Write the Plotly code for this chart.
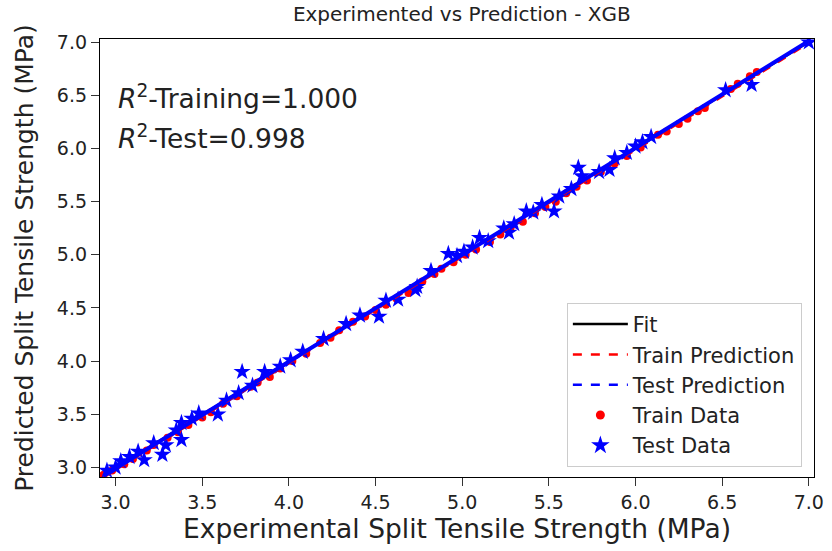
import numpy as np
import plotly.graph_objects as go

# Training set: experimental vs predicted split tensile strength (MPa)
train_exp = [2.93, 2.98, 3.05, 3.10, 3.18, 3.22, 3.30, 3.36, 3.42, 3.50, 3.55, 3.62,
             3.70, 3.78, 3.82, 3.89, 3.95, 4.02, 4.10, 4.18, 4.24, 4.29, 4.37, 4.44,
             4.50, 4.56, 4.62, 4.69, 4.77, 4.84, 4.88, 4.95, 5.02, 5.08, 5.16, 5.22,
             5.28, 5.35, 5.42, 5.48, 5.54, 5.60, 5.66, 5.72, 5.80, 5.88, 5.95, 6.03,
             6.13, 6.18, 6.25, 6.30, 6.36, 6.40, 6.55, 6.59, 6.66, 6.70]
train_pred = [2.93, 2.97, 3.03, 3.08, 3.16, 3.21, 3.28, 3.33, 3.40, 3.47, 3.52, 3.60,
              3.67, 3.76, 3.80, 3.85, 3.93, 4.00, 4.07, 4.17, 4.22, 4.29, 4.37, 4.42,
              4.48, 4.53, 4.59, 4.64, 4.75, 4.82, 4.87, 4.93, 5.00, 5.05, 5.12, 5.19,
              5.26, 5.31, 5.39, 5.45, 5.50, 5.58, 5.64, 5.70, 5.78, 5.86, 5.93, 6.01,
              6.13, 6.16, 6.23, 6.28, 6.35, 6.38, 6.56, 6.61, 6.68, 6.72]

# Test set
test_exp = [2.95, 3.00, 3.03, 3.08, 3.13, 3.165, 3.22, 3.27, 3.29, 3.35, 3.38, 3.38,
            3.44, 3.48, 3.59, 3.64, 3.71, 3.73, 3.79, 3.86, 3.95, 4.01, 4.08, 4.20,
            4.33, 4.41, 4.52, 4.56, 4.63, 4.73, 4.74, 4.82, 4.92, 4.97, 5.01, 5.06,
            5.10, 5.15, 5.24, 5.27, 5.30, 5.37, 5.41, 5.46, 5.53, 5.56, 5.63, 5.67,
            5.69, 5.79, 5.85, 5.88, 5.95, 6.00, 6.04, 6.09, 6.52, 6.67, 7.00]
test_pred = [2.97, 3.00, 3.06, 3.10, 3.15, 3.07, 3.23, 3.12, 3.21, 3.35, 3.26, 3.42,
             3.46, 3.51, 3.50, 3.63, 3.70, 3.90, 3.77, 3.90, 3.95, 4.01, 4.09, 4.21,
             4.35, 4.43, 4.42, 4.57, 4.58, 4.67, 4.70, 4.85, 5.01, 4.99, 5.03, 5.07,
             5.16, 5.13, 5.25, 5.21, 5.29, 5.41, 5.40, 5.47, 5.41, 5.55, 5.62, 5.82,
             5.74, 5.78, 5.80, 5.91, 5.96, 6.02, 6.06, 6.11, 6.55, 6.60, 7.00]

tick_vals = [3.0, 3.5, 4.0, 4.5, 5.0, 5.5, 6.0, 6.5, 7.0]
tick_text = ["3.0", "3.5", "4.0", "4.5", "5.0", "5.5", "6.0", "6.5", "7.0"]

r2_train = "1.000"
r2_test = "0.998"

all_x = np.array(train_exp + test_exp)
lo, hi = all_x.min(), all_x.max()
line_x = np.array([lo, hi])

# Least-squares prediction lines for each set
k_tr, b_tr = np.polyfit(train_exp, train_pred, 1)
k_te, b_te = np.polyfit(test_exp, test_pred, 1)

FONT = "DejaVu Sans"
TXT = "#222"
fig = go.Figure()

fig.add_trace(go.Scatter(x=line_x, y=line_x, mode="lines",
                         line=dict(color="black", width=2), showlegend=False))
fig.add_trace(go.Scatter(x=train_exp, y=train_pred, mode="markers",
                         marker=dict(color="red", size=8, line=dict(width=0)),
                         showlegend=False))
fig.add_trace(go.Scatter(x=test_exp, y=test_pred, mode="markers",
                         marker=dict(color="blue", size=13, symbol="star",
                                     line=dict(width=0)),
                         showlegend=False))
fig.add_trace(go.Scatter(x=line_x, y=k_tr * line_x + b_tr, mode="lines",
                         line=dict(color="red", width=2, dash="dash"), showlegend=False))
fig.add_trace(go.Scatter(x=line_x, y=k_te * line_x + b_te, mode="lines",
                         line=dict(color="blue", width=4), showlegend=False))

# Legend entries
fig.add_trace(go.Scatter(x=[None], y=[None], mode="lines", name="Fit",
                         line=dict(color="black", width=2.5)))
fig.add_trace(go.Scatter(x=[None], y=[None], mode="lines", name="Train Prediction",
                         line=dict(color="red", width=2.5, dash="dash")))
fig.add_trace(go.Scatter(x=[None], y=[None], mode="lines", name="Test Prediction",
                         line=dict(color="blue", width=2.5, dash="dash")))
fig.add_trace(go.Scatter(x=[None], y=[None], mode="markers", name="Train Data",
                         marker=dict(color="red", size=9)))
fig.add_trace(go.Scatter(x=[None], y=[None], mode="markers", name="Test Data",
                         marker=dict(color="blue", size=14, symbol="star")))

axis_common = dict(range=[2.91, 7.03], showline=True, mirror=True, linecolor="black",
                   linewidth=1.3, ticks="outside", ticklen=8, tickwidth=1.2,
                   tickcolor="#333", showgrid=False, zeroline=False,
                   tickvals=tick_vals, ticktext=tick_text, ticklabeloverflow="allow",
                   tickfont=dict(family=FONT, size=19, color=TXT))

fig.update_layout(
    width=832, height=551,
    margin=dict(l=100, r=8, t=39, b=74),
    paper_bgcolor="white", plot_bgcolor="white",
    title=dict(text="Experimented vs Prediction - XGB", x=0.555,
               xanchor="center", y=0.974, yanchor="middle",
               font=dict(family=FONT, size=20, color=TXT)),
    xaxis=dict(axis_common, title=dict(text="Experimental Split Tensile Strength (MPa)",
                                       font=dict(family=FONT, size=26.5, color=TXT),
                                       standoff=4)),
    yaxis=dict(axis_common, title=dict(text="Predicted Split Tensile Strength (MPa)",
                                       font=dict(family=FONT, size=25, color=TXT),
                                       standoff=16)),
    legend=dict(x=0.983, y=0.023, xanchor="right", yanchor="bottom",
                bgcolor="white", bordercolor="#ccc", borderwidth=1,
                font=dict(family=FONT, size=21, color=TXT), tracegroupgap=0,
                itemwidth=55),
    showlegend=True,
)

fig.add_annotation(x=0.022, y=0.868, xref="paper", yref="paper", xanchor="left",
                   yanchor="middle", showarrow=False,
                   text=f"<i>R</i><sup>2</sup>-Training={r2_train}",
                   font=dict(family=FONT, size=26.5, color=TXT))
fig.add_annotation(x=0.022, y=0.776, xref="paper", yref="paper", xanchor="left",
                   yanchor="middle", showarrow=False,
                   text=f"<i>R</i><sup>2</sup>-Test={r2_test}",
                   font=dict(family=FONT, size=26.5, color=TXT))

fig.write_html("out.html")
